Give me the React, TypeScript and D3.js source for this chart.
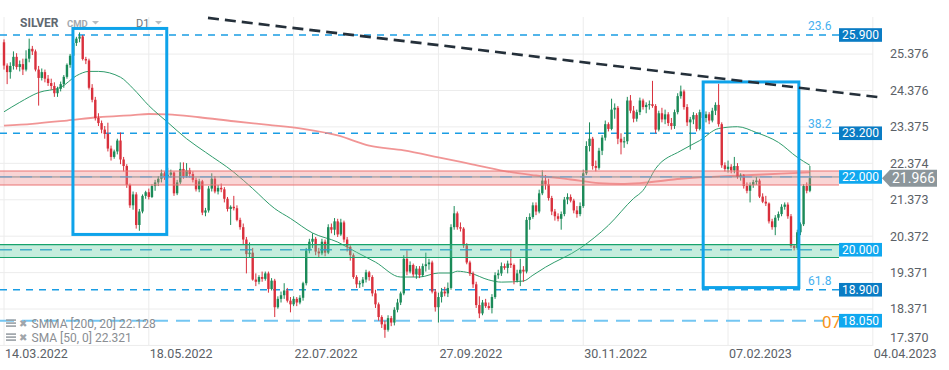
import React from "react";
import * as d3 from "d3";

// x axis: one label every 46 daily bars
const tickLabels = ["14.03.2022", "18.05.2022", "22.07.2022", "27.09.2022", "30.11.2022", "07.02.2023", "04.04.2023"];
const tickStep = 46;
const priceTicks = [25.376, 24.376, 23.375, 22.374, 21.373, 20.372, 19.371, 18.371, 17.37];

// daily candles [open, high, low, close]
const candles = [
  [25.70, 25.78, 24.95, 25.06], [25.06, 25.12, 24.55, 24.88], [24.88, 25.15, 24.70, 25.05], [25.05, 25.45, 24.95, 25.30],
  [25.30, 25.40, 24.95, 25.02], [25.02, 25.20, 24.90, 25.10], [25.10, 25.25, 24.80, 24.95], [24.95, 25.48, 24.90, 25.25],
  [25.25, 25.80, 25.15, 25.52], [25.52, 25.60, 25.35, 25.45], [25.45, 25.50, 24.90, 24.95], [24.95, 25.05, 23.96, 24.72],
  [24.72, 24.98, 24.65, 24.88], [24.88, 24.95, 24.60, 24.70], [24.70, 24.80, 24.50, 24.58], [24.58, 24.70, 24.40, 24.50],
  [24.50, 24.60, 24.20, 24.30], [24.30, 24.48, 24.20, 24.42], [24.42, 24.62, 24.35, 24.55], [24.55, 24.80, 24.45, 24.75],
  [24.75, 25.12, 24.70, 25.08], [25.08, 25.38, 25.00, 25.33], [25.33, 25.72, 25.30, 25.68], [25.68, 25.85, 25.60, 25.80],
  [25.80, 25.97, 25.70, 25.86], [25.86, 25.90, 25.20, 25.24], [25.24, 25.30, 25.10, 25.20], [25.20, 25.25, 24.40, 24.45],
  [24.45, 24.55, 24.05, 24.12], [24.12, 24.20, 23.55, 23.62], [23.62, 23.75, 23.40, 23.48], [23.48, 23.55, 23.20, 23.30],
  [23.30, 23.40, 23.05, 23.18], [23.18, 23.49, 22.70, 22.78], [22.78, 22.86, 22.45, 22.55], [22.55, 22.75, 22.50, 22.70],
  [22.70, 23.05, 22.62, 23.00], [23.00, 23.22, 22.35, 22.48], [22.48, 22.55, 22.15, 22.30], [22.30, 22.35, 21.70, 21.78],
  [21.78, 21.82, 21.15, 21.22], [21.22, 21.60, 21.10, 21.52], [21.52, 21.58, 20.58, 20.68], [20.68, 21.12, 20.52, 21.05],
  [21.05, 21.52, 21.00, 21.48], [21.48, 21.62, 21.40, 21.58], [21.58, 21.68, 21.38, 21.45], [21.45, 21.80, 21.42, 21.75],
  [21.75, 21.92, 21.62, 21.85], [21.85, 22.02, 21.75, 21.95], [21.95, 22.20, 21.85, 22.10], [22.10, 22.15, 21.92, 22.00],
  [22.00, 22.25, 21.95, 22.06], [22.06, 22.20, 21.98, 22.12], [22.12, 22.15, 21.48, 21.55], [21.55, 21.92, 21.50, 21.85],
  [21.85, 22.40, 21.80, 22.22], [22.22, 22.40, 21.95, 22.02], [22.02, 22.38, 21.98, 22.18], [22.18, 22.25, 21.98, 22.08],
  [22.08, 22.15, 21.85, 21.92], [21.92, 21.98, 21.60, 21.66], [21.66, 21.95, 21.58, 21.88], [21.88, 21.92, 20.95, 21.02],
  [21.02, 21.15, 20.92, 21.08], [21.08, 21.75, 21.02, 21.68], [21.68, 22.10, 21.60, 21.95], [21.95, 22.02, 21.55, 21.60],
  [21.60, 21.78, 21.52, 21.70], [21.70, 21.82, 21.58, 21.66], [21.66, 21.72, 21.30, 21.40], [21.40, 21.45, 21.05, 21.12],
  [21.12, 21.22, 20.68, 21.18], [21.18, 21.48, 21.08, 21.14], [21.14, 21.22, 20.78, 20.82], [20.82, 20.88, 20.55, 20.62],
  [20.62, 20.72, 20.15, 20.28], [20.28, 20.35, 19.35, 19.88], [19.88, 20.20, 19.80, 19.92], [19.92, 20.05, 19.15, 19.18],
  [19.18, 19.35, 19.00, 19.12], [19.12, 19.30, 19.05, 19.25], [19.25, 19.40, 19.12, 19.20], [19.20, 19.40, 19.15, 19.35],
  [19.35, 19.40, 18.82, 18.92], [18.92, 19.22, 18.88, 19.15], [19.15, 19.20, 18.15, 18.42], [18.42, 18.72, 18.38, 18.65],
  [18.65, 18.85, 18.55, 18.75], [18.75, 19.08, 18.65, 18.88], [18.88, 18.95, 18.55, 18.60], [18.60, 18.70, 18.28, 18.50],
  [18.50, 18.72, 18.45, 18.65], [18.65, 18.70, 18.45, 18.55], [18.55, 18.75, 18.50, 18.68], [18.68, 19.12, 18.60, 19.08],
  [19.08, 20.05, 19.02, 19.98], [19.98, 20.30, 19.90, 20.22], [20.22, 20.45, 20.05, 20.30], [20.30, 20.35, 19.85, 19.95],
  [19.95, 20.05, 19.80, 19.90], [19.90, 20.30, 19.85, 20.22], [20.22, 20.28, 19.82, 19.92], [19.92, 20.70, 19.88, 20.62],
  [20.62, 20.72, 20.45, 20.55], [20.55, 20.87, 20.40, 20.78], [20.78, 20.85, 20.35, 20.42], [20.42, 20.85, 20.38, 20.75],
  [20.75, 20.80, 20.20, 20.28], [20.28, 20.35, 19.95, 20.08], [20.08, 20.12, 19.70, 19.85], [19.85, 19.90, 19.20, 19.25],
  [19.25, 19.30, 18.95, 19.05], [19.05, 19.15, 18.95, 19.08], [19.08, 19.25, 18.98, 19.18], [19.18, 19.45, 19.10, 19.38],
  [19.38, 19.42, 19.15, 19.25], [19.25, 19.30, 18.72, 18.80], [18.80, 18.90, 18.40, 18.50], [18.50, 18.55, 18.05, 18.15],
  [18.15, 18.20, 17.85, 17.95], [17.95, 18.05, 17.58, 17.80], [17.80, 18.20, 17.75, 18.12], [18.12, 18.18, 17.90, 18.00],
  [18.00, 18.42, 17.92, 18.35], [18.35, 18.65, 18.28, 18.55], [18.55, 18.85, 18.48, 18.80], [18.80, 19.85, 18.75, 19.75],
  [19.75, 19.98, 19.30, 19.40], [19.40, 19.68, 19.35, 19.58], [19.58, 19.62, 19.25, 19.32], [19.32, 19.55, 19.20, 19.48],
  [19.48, 19.55, 19.22, 19.30], [19.30, 19.62, 19.25, 19.55], [19.55, 19.92, 19.40, 19.60], [19.60, 19.75, 19.45, 19.65],
  [19.65, 19.70, 18.80, 18.85], [18.85, 18.92, 18.30, 18.42], [18.42, 18.82, 18.00, 18.70], [18.70, 18.95, 18.55, 18.85],
  [18.85, 18.98, 18.72, 18.80], [18.80, 19.10, 18.70, 18.95], [18.95, 20.70, 18.90, 20.62], [20.62, 21.20, 20.55, 21.00],
  [21.00, 21.05, 20.55, 20.62], [20.62, 20.75, 20.50, 20.58], [20.58, 20.62, 20.05, 20.12], [20.12, 20.18, 19.60, 19.65],
  [19.65, 19.70, 19.28, 19.35], [19.35, 19.40, 18.95, 19.05], [19.05, 19.12, 18.40, 18.48], [18.48, 18.72, 18.12, 18.25],
  [18.25, 18.62, 18.20, 18.55], [18.55, 18.65, 18.40, 18.45], [18.45, 18.55, 18.35, 18.40], [18.40, 18.78, 18.25, 18.70],
  [18.70, 19.38, 18.65, 19.30], [19.30, 19.45, 19.20, 19.35], [19.35, 19.65, 19.28, 19.55], [19.55, 19.62, 19.45, 19.50],
  [19.50, 19.70, 19.35, 19.62], [19.62, 19.99, 19.50, 19.58], [19.58, 19.62, 19.05, 19.15], [19.15, 19.45, 19.10, 19.35],
  [19.35, 19.75, 19.00, 19.45], [19.45, 19.55, 19.12, 19.40], [19.40, 20.90, 19.35, 20.82], [20.82, 21.00, 20.55, 20.90],
  [20.90, 21.30, 20.85, 21.22], [21.22, 21.30, 20.95, 21.05], [21.05, 21.65, 21.00, 21.55], [21.55, 22.18, 21.50, 21.90],
  [21.90, 22.05, 21.65, 21.80], [21.80, 21.95, 21.35, 21.42], [21.42, 21.48, 20.95, 21.05], [21.05, 21.12, 20.80, 20.92],
  [20.92, 21.00, 20.78, 20.85], [20.85, 21.05, 20.55, 20.98], [20.98, 21.45, 20.92, 21.38], [21.38, 21.55, 21.25, 21.45],
  [21.45, 21.52, 21.30, 21.35], [21.35, 21.40, 21.00, 21.08], [21.08, 21.20, 20.88, 20.98], [20.98, 21.30, 20.92, 21.20],
  [21.20, 22.20, 21.15, 22.10], [22.10, 22.98, 22.05, 22.85], [22.85, 23.50, 22.70, 23.05], [23.05, 23.10, 22.20, 22.30],
  [22.30, 22.45, 22.15, 22.25], [22.25, 22.80, 22.20, 22.72], [22.72, 23.15, 22.60, 23.08], [23.08, 23.55, 23.00, 23.45],
  [23.45, 23.50, 23.25, 23.32], [23.32, 24.15, 23.28, 23.85], [23.85, 24.02, 23.60, 23.90], [23.90, 23.95, 22.90, 23.05],
  [23.05, 23.20, 22.62, 22.95], [22.95, 23.10, 22.80, 22.98], [22.98, 24.20, 22.90, 24.10], [24.10, 24.25, 23.75, 23.82],
  [23.82, 23.95, 23.50, 23.60], [23.60, 23.85, 23.52, 23.78], [23.78, 24.18, 23.70, 24.10], [24.10, 24.15, 23.85, 23.92],
  [23.92, 24.05, 23.75, 23.98], [23.98, 24.10, 23.85, 24.00], [24.00, 24.64, 23.90, 23.95], [23.95, 24.00, 23.20, 23.30],
  [23.30, 23.82, 23.25, 23.75], [23.75, 23.90, 23.50, 23.58], [23.58, 23.85, 23.45, 23.72], [23.72, 23.78, 23.40, 23.48],
  [23.48, 23.62, 23.30, 23.40], [23.40, 23.85, 23.32, 23.78], [23.78, 24.30, 23.72, 24.22], [24.22, 24.51, 24.15, 24.35],
  [24.35, 24.40, 23.85, 23.92], [23.92, 24.00, 23.40, 23.50], [23.50, 23.65, 22.75, 23.58], [23.58, 23.78, 23.45, 23.70],
  [23.70, 23.75, 23.25, 23.32], [23.32, 23.85, 23.28, 23.78], [23.78, 23.88, 23.55, 23.62], [23.62, 23.80, 23.50, 23.72],
  [23.72, 23.78, 23.45, 23.55], [23.55, 23.90, 23.50, 23.82], [23.82, 24.05, 23.70, 23.98], [23.98, 24.56, 23.38, 23.45],
  [23.45, 23.50, 22.25, 22.32], [22.32, 22.40, 22.15, 22.22], [22.22, 22.45, 22.12, 22.28], [22.28, 22.35, 22.10, 22.18],
  [22.18, 22.55, 22.10, 22.30], [22.30, 22.38, 21.95, 22.00], [22.00, 22.10, 21.90, 22.04], [22.04, 22.08, 21.68, 21.75],
  [21.75, 21.85, 21.55, 21.62], [21.62, 21.85, 21.30, 21.78], [21.78, 21.92, 21.70, 21.86], [21.86, 22.00, 21.78, 21.90],
  [21.90, 21.95, 21.42, 21.46], [21.46, 21.55, 21.28, 21.32], [21.32, 21.48, 21.20, 21.27], [21.27, 21.30, 20.72, 20.78],
  [20.78, 20.85, 20.55, 20.62], [20.62, 20.95, 20.40, 20.88], [20.88, 21.05, 20.80, 20.98], [20.98, 21.25, 20.92, 21.18],
  [21.18, 21.30, 21.10, 21.24], [21.24, 21.30, 20.85, 20.92], [20.92, 20.98, 20.05, 20.10], [20.10, 20.15, 19.98, 20.05],
  [20.05, 20.55, 20.00, 20.48], [20.48, 20.75, 20.40, 20.70], [20.70, 21.80, 20.65, 21.75], [21.75, 21.85, 21.55, 21.62],
  [21.62, 22.30, 21.58, 21.966],
];

// indicator lines: [bar index, price]
const sma50 = [
  [0, 23.79], [5, 24.05], [11, 24.32], [18, 24.46], [23, 24.78], [27, 24.9], [30, 24.9], [37, 24.74], [41, 24.43],
  [46, 23.96], [52, 23.5], [58, 23.05], [64, 22.68], [73, 22.13], [79, 21.68], [86, 21.13], [91, 20.86], [98, 20.46],
  [106, 20.21], [112, 19.93], [118, 19.66], [126, 19.25], [132, 19.25], [138, 19.36], [142, 19.36], [144, 19.41],
  [148, 19.36], [154, 19.17], [158, 19.11], [165, 19.14], [168, 19.3], [172, 19.52], [183, 20.04], [192, 20.67],
  [200, 21.41], [203, 21.63], [207, 22.23], [215, 22.72], [221, 23.0], [227, 23.33], [233, 23.38], [239, 23.22],
  [246, 22.95], [252, 22.54], [256, 22.321],
];
const smma200 = [
  [0, 23.41], [9, 23.46], [20, 23.55], [30, 23.64], [41, 23.7], [46, 23.73], [52, 23.72], [62, 23.64], [73, 23.53],
  [84, 23.43], [95, 23.32], [106, 23.14], [116, 22.86], [127, 22.73], [138, 22.54], [148, 22.36], [159, 22.16],
  [169, 22.04], [180, 21.93], [189, 21.83], [196, 21.81], [202, 21.83], [215, 21.95], [234, 22.04], [247, 22.09],
  [256, 22.128],
];

const fibLevels = [
  { price: 25.9, pct: "23.6" },
  { price: 23.2, pct: "38.2" },
  { price: 18.9, pct: "61.8" },
];
const zones = [
  { price: 22.0, hi: 22.163, lo: 21.778, fill: "#ee8787", edge: "#e97474", dash: "#6f9fcc" },
  { price: 20.0, hi: 20.143, lo: 19.786, fill: "#5acc9d", edge: "#17a36b", dash: "#2aa3c6" },
];
const priceBoxes = [
  { price: 25.9, text: "25.900", dark: true },
  { price: 23.2, text: "23.200", dark: true },
  { price: 22.0, text: "22.000", dark: false },
  { price: 20.0, text: "20.000", dark: false },
  { price: 18.9, text: "18.900", dark: true },
  { price: 18.05, text: "18.050", dark: false },
];
const highlightBoxes = [
  { from: 21.9, to: 51.7, hi: 26.08, lo: 20.42 },
  { from: 222.1, to: 252.5, hi: 24.61, lo: 18.96 },
];
const trendLine = [[64.8, 26.37], [279, 24.18]];
const lastPrice = 21.966;

const W = 949;
const H = 370;
const FONT = "Roboto, 'Open Sans', Arial, sans-serif";

export default function App() {
  const x = d3.scaleLinear().domain([0, 276]).range([4, 4 + 276 * 3.148]);
  const y = d3.scaleLinear().domain([18.05, 25.9]).range([320.7, 35]);
  const plotRight = x(276);
  const boxLeft = 839;

  const lineGen = d3.line().x((d) => x(d[0])).y((d) => y(d[1])).curve(d3.curveMonotoneX);

  const green = "#1b8a58";
  const red = "#d9303c";
  const bodyW = 2.4;

  return (
    <div>
      <style>{`body{margin:0;background:#fff}`}</style>
      <svg width={W} height={H} style={{ display: "block", fontFamily: FONT }}>
        <rect width={W} height={H} fill="#fff" />

        {/* grid */}
        {tickLabels.map((t, k) => (
          <line key={"vg" + k} x1={x(k * tickStep)} x2={x(k * tickStep)} y1={17} y2={346} stroke="#ececec" strokeWidth={1} />
        ))}
        {priceTicks.map((p, k) => (
          <line key={"hg" + k} x1={0} x2={plotRight} y1={y(p)} y2={y(p)} stroke="#ececec" strokeWidth={1} />
        ))}

        {/* fibonacci levels */}
        {fibLevels.map((f, k) => (
          <g key={"fib" + k}>
            <line x1={0} x2={boxLeft} y1={y(f.price)} y2={y(f.price)} stroke="#1a9de4" strokeWidth={1.4} strokeDasharray="7 6" />
            <text x={808} y={y(f.price) - 5} fontSize={12} fill="#45b0ef">{f.pct}</text>
          </g>
        ))}
        <line x1={0} x2={823} y1={y(18.05)} y2={y(18.05)} stroke="#74c6f2" strokeWidth={2} strokeDasharray="14 8" />
        <text x={822} y={y(18.05) + 7} fontSize={17} fill="#f7941d">07</text>

        {/* moving averages */}
        <path d={lineGen(smma200)} fill="none" stroke="#f08a8a" strokeWidth={1.8} opacity={0.9} />
        <path d={lineGen(sma50)} fill="none" stroke="#2f9c6c" strokeWidth={1} />

        {/* candles */}
        {candles.map((c, i) => {
          const [o, h, l, cl] = c;
          const col = cl >= o ? green : red;
          const top = y(Math.max(o, cl));
          const bh = Math.max(1, y(Math.min(o, cl)) - top);
          return (
            <g key={"c" + i}>
              <line x1={x(i)} x2={x(i)} y1={y(h)} y2={y(l)} stroke={col} strokeWidth={1} />
              <rect x={x(i) - bodyW / 2} y={top} width={bodyW} height={bh} fill={col} />
            </g>
          );
        })}

        {/* support / resistance zones */}
        {zones.map((z, k) => (
          <g key={"z" + k}>
            <rect x={0} y={y(z.hi)} width={boxLeft} height={y(z.lo) - y(z.hi)} fill={z.fill} opacity={0.35} />
            <line x1={0} x2={boxLeft} y1={y(z.hi)} y2={y(z.hi)} stroke={z.edge} strokeWidth={1.2} />
            <line x1={0} x2={boxLeft} y1={y(z.lo)} y2={y(z.lo)} stroke={z.edge} strokeWidth={1.2} />
            {k === 0 && <line x1={0} x2={boxLeft} y1={y(z.price)} y2={y(z.price)} stroke="#8d8d8d" strokeWidth={1} />}
            <line x1={0} x2={boxLeft} y1={y(z.price)} y2={y(z.price)} stroke={z.dash} strokeWidth={1.3} strokeDasharray="12 8" opacity={0.85} />
          </g>
        ))}

        {/* highlight boxes */}
        {highlightBoxes.map((b, k) => (
          <rect key={"hb" + k} x={x(b.from)} y={y(b.hi)} width={x(b.to) - x(b.from)} height={y(b.lo) - y(b.hi)}
            fill="none" stroke="#0ea3ea" strokeWidth={3} />
        ))}

        {/* trend line */}
        <line x1={x(trendLine[0][0])} y1={y(trendLine[0][1])} x2={x(trendLine[1][0])} y2={y(trendLine[1][1])}
          stroke="#25303a" strokeWidth={2.6} strokeDasharray="11 6" />

        {/* price boxes */}
        {priceBoxes.map((b, k) => (
          <g key={"pb" + k}>
            <rect x={boxLeft} y={y(b.price) - 6.8} width={43} height={13.6} fill={b.dark ? "#0a7cc4" : "#10a8ef"} />
            <text x={boxLeft + 21.5} y={y(b.price)} dy="0.35em" textAnchor="middle" fontSize={12} fill="#fff">{b.text}</text>
          </g>
        ))}

        {/* y axis labels */}
        {priceTicks.map((p, k) => (
          <text key={"yl" + k} x={890} y={Math.min(y(p), 338)} dy="0.35em" fontSize={12.5} fill="#5b6167">{p.toFixed(3)}</text>
        ))}

        {/* last price */}
        <path d={`M882,${y(lastPrice)} L890,${y(lastPrice) - 8.5} L937,${y(lastPrice) - 8.5} L937,${y(lastPrice) + 8.5} L890,${y(lastPrice) + 8.5} Z`} fill="#8c969b" />
        <text x={913.5} y={y(lastPrice)} dy="0.36em" textAnchor="middle" fontSize={14} fill="#fff">{lastPrice.toFixed(3)}</text>

        {/* x axis labels */}
        {tickLabels.map((t, k) => (
          <text key={"xl" + k} x={x(k * tickStep) + 1} y={353.5} dy="0.35em" fontSize={12.5} fill="#5b6167">{t}</text>
        ))}

        {/* header */}
        <text x={20} y={27} fontSize={12} fontWeight="bold" fill="#5f6870">SILVER</text>
        <text x={67} y={27} fontSize={9.5} fontWeight="bold" fill="#a3a8ad">CMD</text>
        <path d="M92,21 L99,21 L95.5,24.5 Z" fill="#b8bcc0" />
        <text x={136} y={27} fontSize={11} fill="#6b7379">D1</text>
        <path d="M155,21 L162,21 L158.5,24.5 Z" fill="#b8bcc0" />

        {/* legend */}
        {["SMMA [200, 20] 22.128", "SMA [50, 0] 22.321"].map((t, k) => (
          <g key={"lg" + k} transform={`translate(0, ${323.3 + k * 14})`}>
            <rect x={6} y={-4} width={10} height={1.6} fill="#9aa0a6" />
            <rect x={6} y={-1} width={10} height={1.6} fill="#9aa0a6" />
            <rect x={6} y={2} width={10} height={1.6} fill="#9aa0a6" />
            <text x={19} y={0} dy="0.35em" fontSize={10} fill="#a0a5aa">✖</text>
            <text x={31.5} y={0} dy="0.35em" fontSize={12} fill="#8a8e93">{t}</text>
          </g>
        ))}
      </svg>
    </div>
  );
}
